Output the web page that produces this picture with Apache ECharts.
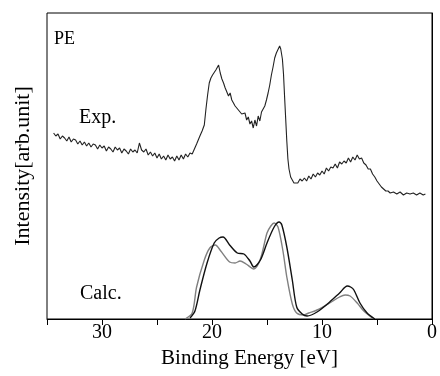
<!DOCTYPE html>
<html>
<head>
<meta charset="utf-8">
<script src="https://cdn.jsdelivr.net/npm/echarts@6/dist/echarts.min.js"></script>
<style>
  html, body { margin: 0; padding: 0; background: #fff; }
  #chart { width: 440px; height: 376px; }
</style>
</head>
<body>
<div id="chart"></div>
<script>
// Measured photoemission spectrum (noisy trace), binding energy in eV
const expEnergy = [
  34.4, 34.2, 34.0, 33.8, 33.6, 33.4, 33.2, 33.0, 32.8, 32.6, 32.4, 32.2, 32.0, 31.8, 31.6, 31.4,
  31.2, 31.0, 30.8, 30.6, 30.4, 30.2, 30.0, 29.8, 29.6, 29.4, 29.2, 29.0, 28.8, 28.6, 28.4, 28.2,
  28.0, 27.8, 27.6, 27.4, 27.2, 27.0, 26.8, 26.6, 26.4, 26.2, 26.0, 25.8, 25.6, 25.4, 25.2, 25.0,
  24.8, 24.6, 24.4, 24.2, 24.0, 23.8, 23.6, 23.4, 23.2, 23.0, 22.8, 22.6, 22.4, 22.2, 22.0, 21.8,
  21.6, 21.4, 21.1, 20.9, 20.7,
  20.55, 20.4, 20.25, 20.1, 19.95, 19.8, 19.65, 19.5, 19.4, 19.25, 19.1, 18.95, 18.8, 18.65, 18.5,
  18.35, 18.2, 18.05, 17.9, 17.75, 17.6, 17.45, 17.3, 17.15, 17.0, 16.85, 16.7, 16.55, 16.4, 16.25,
  16.1, 15.95, 15.8, 15.65, 15.5, 15.35, 15.2, 15.05, 14.9, 14.75, 14.6, 14.45, 14.3, 14.15, 14.0,
  13.85, 13.75, 13.6, 13.5, 13.4, 13.3, 13.2, 13.1, 13.0, 12.85, 12.7, 12.55, 12.4, 12.2, 12.0,
  11.8, 11.6, 11.4, 11.2, 11.0, 10.8, 10.6, 10.4, 10.2, 10.0, 9.8, 9.6, 9.4, 9.2, 9.0, 8.8, 8.6,
  8.4, 8.2, 8.0, 7.8, 7.6, 7.4, 7.2, 7.0, 6.8, 6.6, 6.4, 6.2, 6.0, 5.8, 5.6, 5.4, 5.2, 5.0, 4.8,
  4.6, 4.4, 4.2, 4.0, 3.8, 3.5, 3.2, 2.9, 2.6, 2.3, 2.0, 1.7, 1.4, 1.1, 0.8, 0.6
];
const expIntensity = [
  186, 183, 185, 180, 183, 181, 178, 182, 177, 180, 179, 175, 178, 174, 177, 173,
  176, 172, 175, 174, 170, 174, 171, 173, 168, 172, 170, 167, 172, 169, 171, 166,
  170, 168, 165, 170, 167, 169, 166, 176, 169, 167, 170, 164, 167, 163, 166, 161,
  165, 160, 163, 159, 164, 160, 162, 158, 163, 159, 164, 160, 165, 162, 166, 165,
  170, 175, 183, 188, 194,
  210, 224, 236, 241, 244, 242, 249, 251, 254, 246, 240, 236, 231, 229, 223,
  226, 219, 217, 213, 215, 209, 211, 205, 204, 206, 199, 202, 195, 198, 191,
  199, 193, 203, 198, 207, 205, 213, 219, 226, 234, 244, 252, 261, 266, 268,
  273, 270, 260, 245, 222, 200, 178, 160, 150, 142, 139, 136, 138, 136, 140,
  138, 141, 138, 143, 140, 145, 142, 146, 144, 148, 145, 151, 148, 152, 151, 155, 151,
  157, 155, 158, 156, 161, 157, 162, 159, 164, 160, 161, 156, 154, 150, 150, 145, 142, 138, 135,
  132, 130, 128, 128, 126, 127, 125, 127, 124, 126, 125, 126, 124, 126, 124, 125
];

// Calculated spectrum, first model (dark line)
const calcAEnergy = [
  22.0, 21.55, 21.1, 20.45, 19.8, 19.35, 19.0, 18.4, 17.7, 17.1, 16.55, 16.2, 15.6, 15.0,
  14.35, 13.9, 13.65, 13.2, 12.7, 12.3, 11.8, 11.36, 10.45, 9.3, 8.4, 7.7, 7.4, 7.1, 6.55, 5.9, 5.2
];
const calcAIntensity = [
  1, 8, 29, 56, 76, 81, 82, 74, 66, 65, 58, 52, 59, 76,
  92, 97, 94, 72, 39, 12, 5, 3, 7, 17, 26, 33, 32, 29, 16, 6, 0
];

// Calculated spectrum, second model (grey line)
const calcBEnergy = [
  22.45, 21.8, 21.4, 20.7, 20.2, 19.7, 19.2, 18.4, 17.9, 17.45, 16.9, 16.2, 15.6, 15.0,
  14.65, 14.35, 14.0, 13.55, 13.2, 12.7, 12.3, 11.7, 11.2, 10.45, 9.3, 8.4, 7.9, 7.45, 6.8, 6.2, 5.3
];
const calcBIntensity = [
  0, 6, 32, 59, 71, 74, 68, 57, 56, 58, 55, 50, 60, 86,
  93, 96, 92, 68, 42, 15, 6, 4, 6, 9, 16, 22, 24, 23, 16, 8, 0
];

const xTicks = [0, 10, 20, 30];

const zip = (xs, ys) => xs.map((x, i) => [x, ys[i]]);
const serif = '"Liberation Serif", "DejaVu Serif", serif';

const chart = echarts.init(document.getElementById('chart'));

chart.setOption({
  animation: false,
  backgroundColor: '#fff',
  grid: {
    left: 47,
    right: 5,
    top: 13,
    bottom: 57,
    show: true,
    borderColor: '#000',
    borderWidth: 1
  },
  xAxis: {
    type: 'value',
    inverse: true,
    min: 0,
    max: 35,
    interval: 5,
    name: 'Binding Energy [eV]',
    nameLocation: 'middle',
    nameGap: 20,
    nameTextStyle: { fontFamily: serif, fontSize: 21, color: '#000', padding: [0, 0, 0, 20] },
    axisLine: { lineStyle: { color: '#000', width: 1 } },
    axisTick: { show: true, length: 6, lineStyle: { color: '#000' } },
    axisLabel: {
      margin: 4,
      fontFamily: serif,
      fontSize: 20,
      color: '#000',
      formatter: v => (xTicks.includes(v) ? String(v) : '')
    },
    splitLine: { show: false }
  },
  yAxis: {
    type: 'value',
    min: 0,
    max: 306,
    name: 'Intensity[arb.unit]',
    nameLocation: 'middle',
    nameGap: 13,
    nameTextStyle: { fontFamily: serif, fontSize: 22, color: '#000' },
    axisLine: { show: true, lineStyle: { color: '#000', width: 1 } },
    axisTick: { show: false },
    axisLabel: { show: false },
    splitLine: { show: false }
  },
  graphic: [
    { type: 'text', left: 54, top: 30, style: { text: 'PE', font: '18px ' + serif, fill: '#000' } },
    { type: 'text', left: 79, top: 108, style: { text: 'Exp.', font: '20px ' + serif, fill: '#000' } },
    { type: 'text', left: 80, top: 284, style: { text: 'Calc.', font: '20px ' + serif, fill: '#000' } }
  ],
  series: [
    {
      name: 'Exp.',
      type: 'line',
      data: zip(expEnergy, expIntensity),
      symbol: 'none',
      lineStyle: { color: '#222', width: 1.1 }
    },
    {
      name: 'Calc. B',
      type: 'line',
      smooth: 0.3,
      data: zip(calcBEnergy, calcBIntensity),
      symbol: 'none',
      lineStyle: { color: '#808080', width: 1.4 }
    },
    {
      name: 'Calc. A',
      type: 'line',
      smooth: 0.3,
      data: zip(calcAEnergy, calcAIntensity),
      symbol: 'none',
      lineStyle: { color: '#111', width: 1.4 }
    }
  ]
});

window.addEventListener('resize', () => chart.resize());
</script>
</body>
</html>
